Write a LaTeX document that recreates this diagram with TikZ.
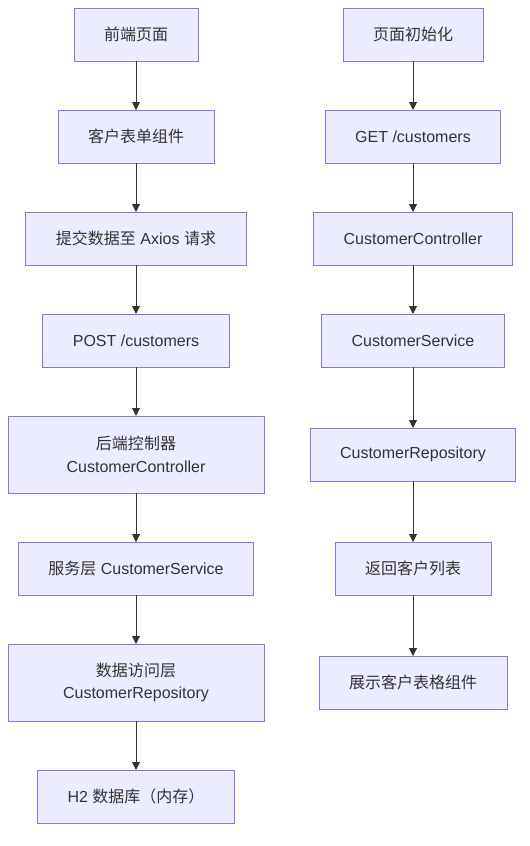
\documentclass[tikz,border=0pt]{standalone}
\usepackage{fontspec}
\setmainfont{Liberation Sans}
\newfontfamily\cjk{Noto Sans CJK SC}
\usetikzlibrary{positioning,arrows.meta}
\definecolor{boxfill}{HTML}{ECECFF}
\definecolor{boxline}{HTML}{9370DB}
\definecolor{ink}{HTML}{333333}
\tikzstyle{box} = [draw=boxline, fill=boxfill, line width=0.75pt, outer sep=0pt, text=ink, inner xsep=22.5pt, minimum height=39.75pt, align=center, font=\fontsize{12}{17}\selectfont]
\tikzstyle{tall} = [minimum height=57.75pt, minimum width=192pt]

\begin{document}
\begin{tikzpicture}[x=0.75pt,y=-0.75pt,->,>={Triangle[length=6pt,width=6pt]},node distance=36.75pt,every edge/.style={draw=ink, line width=0.75pt}]
\useasboundingbox (0,0) rectangle (529,846);

% left column
\node[box] (a1) at (136,34.5) {\cjk 前端页面};
\node[box, below=of a1] (a2) {\cjk 客户表单组件};
\node[box, below=of a2] (a3) {{\cjk 提交数据至} Axios {\cjk 请求}};
\node[box, below=of a3] (a4) {POST /customers};
\node[box, tall, below=of a4] (a5) {{\cjk 后端控制器}\\CustomerController};
\node[box, below=of a5] (a6) {{\cjk 服务层} CustomerService};
\node[box, tall, below=of a6] (a7) {{\cjk 数据访问层}\\CustomerRepository};
\node[box, below=of a7] (a8) {H2 {\cjk 数据库（内存）}};

% right column
\coordinate (rc) at (413,0);
\node[box] (b1) at (rc |- a1) {\cjk 页面初始化};
\node[box] (b2) at (rc |- a2) {GET /customers};
\node[box] (b3) at (rc |- a3) {CustomerController};
\node[box] (b4) at (rc |- a4) {CustomerService};
\node[box] (b5) at (rc |- a5) {CustomerRepository};
\node[box] (b6) at (rc |- a6) {\cjk 返回客户列表};
\node[box] (b7) at (rc |- a7) {\cjk 展示客户表格组件};

\path
(a1) edge (a2)
(a2) edge (a3)
(a3) edge (a4)
(a4) edge (a5)
(a5) edge (a6)
(a6) edge (a7)
(a7) edge (a8)
(b1) edge (b2)
(b2) edge (b3)
(b3) edge (b4)
(b4) edge (b5)
(b5) edge (b6)
(b6) edge (b7);
\end{tikzpicture}
\end{document}
